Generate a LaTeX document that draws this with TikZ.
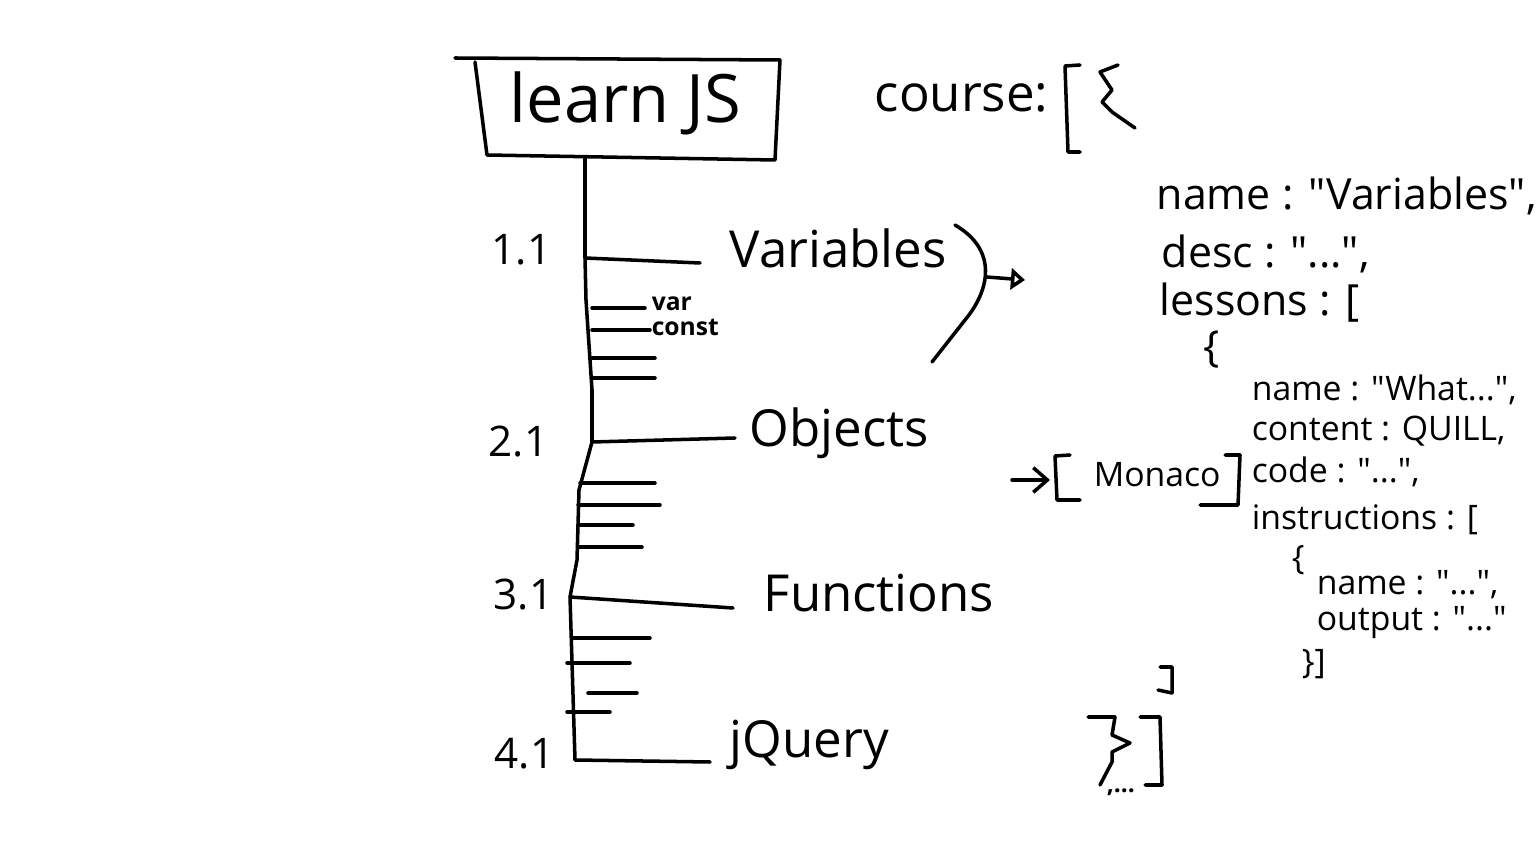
\documentclass[tikz,border=0pt]{standalone}
\usepackage{fontspec}
\setmainfont{Open Sans}[Ligatures=TeXOff]
\usetikzlibrary{arrows.meta}
\begin{document}
\begin{tikzpicture}[x=0.01cm,y=-0.01cm, line width=1pt, line cap=round, line join=round,
  txt/.style={inner sep=0pt, anchor=base west},
  big/.style={txt, font=\fontsize{19}{22}\selectfont},
  mid/.style={txt, font=\fontsize{14.5}{17}\selectfont},
  json/.style={txt, font=\fontsize{12.2}{15}\selectfont},
  small/.style={txt, font=\fontsize{9.6}{12}\selectfont},
  num/.style={txt, font=\fontsize{12}{14}\selectfont},
  tiny/.style={txt, font=\fontsize{7}{8}\selectfont\bfseries},
  tick/.style={line width=1pt}]
\useasboundingbox (0,0) rectangle (1536,864);

% title box
\draw (455,58) -- (780,60) -- (775,160) -- (487,155) -- (475,62);
\node[big] (title) at (508,123) {learn JS};
\coordinate (t0) at (585,158);

% trunk
\coordinate (b1) at (585,258);
\coordinate (b2) at (592,442);
\coordinate (b3) at (570,597);
\coordinate (b4) at (575,760);
\draw (t0) -- (b1) -- (586,300) -- (592,390) -- (b2) -- (579,490) -- (577,560) -- (b3) -- (b4) -- (710,762);

% numbers
\node[num] (n1) at (490,265) {1.1};
\node[num] (n2) at (487,457) {2.1};
\node[num] (n3) at (492,610) {3.1};
\node[num] (n4) at (493,768) {4.1};

% main branches and labels
\node[mid] (var) at (728,268) {Variables};
\node[mid] (obj) at (748,447) {Objects};
\node[mid] (fun) at (762,612) {Functions};
\node[mid] (jq) at (728,757) {jQuery};
\draw (b1) -- (700,263);
\draw (b2) -- (735,438);
\draw (b3) -- (733,608);

% sub ticks
\node[tiny] (lv) at (650,311) {var};
\node[tiny] (lc) at (650,336) {const};
\draw[tick] (592,308) -- (645,308);
\draw[tick] (592,330) -- (650,330);
\draw[tick] (592,358) -- (655,358);
\draw[tick] (592,378) -- (655,378);
\draw[tick] (580,483) -- (655,483);
\draw[tick] (578,505) -- (660,505);
\draw[tick] (578,525) -- (633,525);
\draw[tick] (578,547) -- (642,547);
\draw[tick] (572,638) -- (650,638);
\draw[tick] (567,663) -- (630,663);
\draw[tick] (588,693) -- (637,693);
\draw[tick] (567,712) -- (610,712);

% curve and arrow
\draw (955,225) .. controls (998,250) and (990,290) .. (965,320) -- (932,362);
\coordinate (brk) at (987,277);
\coordinate (tip) at (1025,280);
\draw[-{Triangle[open,length=4pt,width=6pt]}] (brk) -- (tip);

% course
\node[mid] (course) at (873,112) {course:};
\draw (1080,65) -- (1065,66) -- (1068,152) -- (1080,152);
\draw (1118,65) -- (1100,72) -- (1112,90) -- (1102,102) -- (1112,112) -- (1135,128);

% json
\node[json] (j1) at (1155,210) {name : "Variables",};
\node[json] (j2) at (1160,268) {desc : "...",};
\node[json] (j3) at (1158,316) {lessons : [};
\node[json] (j4) at (1202,362) {\{};
\node[small] (k1) at (1250,401) {name : "What...",};
\node[small] (k2) at (1250,441) {content : QUILL,};
\node[small] (k3) at (1250,482) {code : "...",};
\node[small] (k4) at (1250,530) {instructions : [};
\node[small] (k5) at (1290,570) {\{};
\node[small] (k6) at (1315,594) {name : "...",};
\node[small] (k7) at (1315,630) {output : "..."};
\node[small] (k8) at (1300,673) {\}]};

% monaco
\node[small] (mon) at (1092,487) {Monaco};
\coordinate (ma) at (1012,480);
\coordinate (mb) at (1050,480);
\draw[-{Straight Barb[length=4pt,width=7pt]}] (ma) -- (mb);
\draw (1070,455) -- (1055,456) -- (1057,500) -- (1080,500);
\draw (1225,455) -- (1240,455) -- (1238,505) -- (1200,505);

% closing brackets
\draw (1160,667) -- (1172,667) -- (1172,693) -- (1158,690);
\draw (1088,717) -- (1115,717) -- (1112,735) -- (1130,743) -- (1112,752) -- (1112,762) -- (1100,785);
\draw (1140,717) -- (1160,717) -- (1162,785) -- (1145,785);
\node[tiny] (dots) at (1105,792) {,...};
\end{tikzpicture}
\end{document}
